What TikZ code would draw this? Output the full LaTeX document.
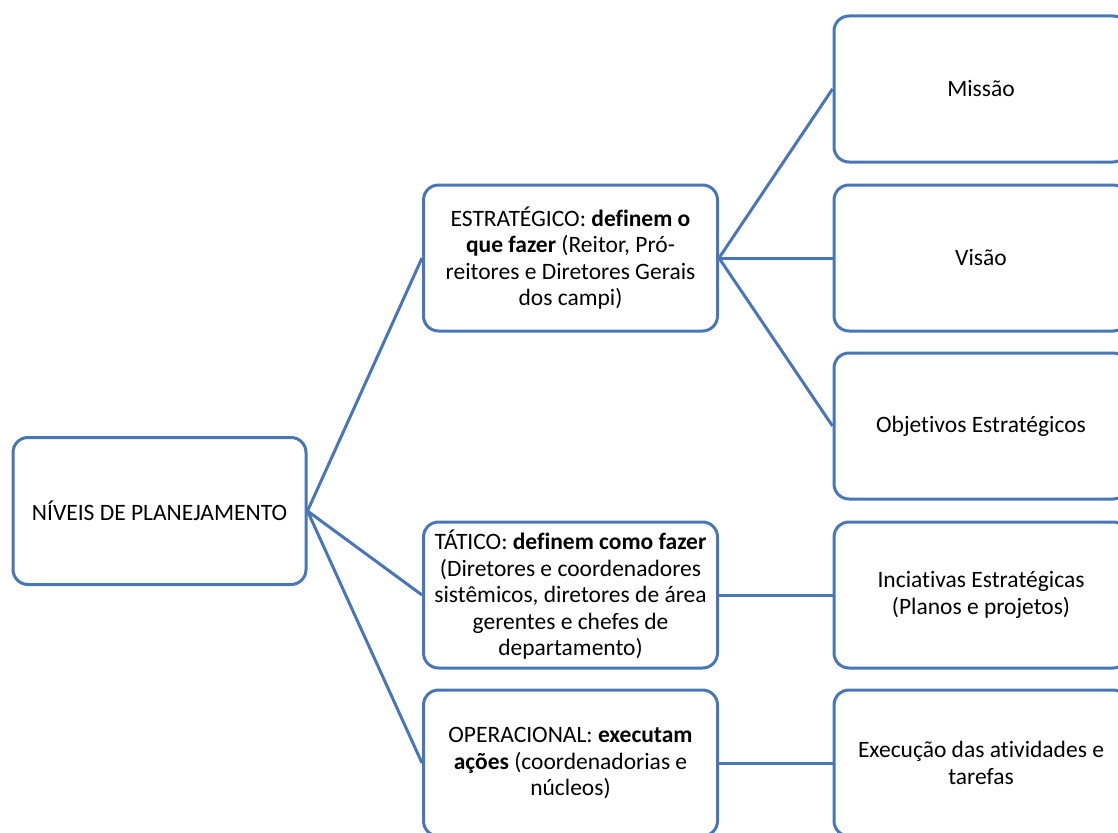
\documentclass[tikz,border=0pt]{standalone}
\usepackage{fontspec}
\setmainfont{Carlito}[Ligatures=NoCommon]
\definecolor{boxblue}{RGB}{72,118,182}
\begin{document}
\begin{tikzpicture}[x=1pt,y=-1pt,
  box/.style={draw=boxblue, line width=3pt, rounded corners=15pt, fill=white,
    minimum width=294pt, minimum height=146pt, align=center, inner sep=2pt,
    font=\fontsize{23.5}{26.5}\selectfont},
  conn/.style={draw=boxblue, line width=3pt}]
\clip (0,0) rectangle (1118,832);
\node[box, minimum width=293pt, minimum height=147pt] (root) at (159.5,511) {NÍVEIS DE PLANEJAMENTO};
\node[box] (est) at (570.5,258) {ESTRATÉGICO: \textbf{definem o}\\\textbf{que fazer} (Reitor, Pró-\\reitores e Diretores Gerais\\dos campi)};
\node[box] (tat) at (570.5,595) {TÁTICO: \textbf{definem como fazer}\\(Diretores e coordenadores\\sistêmicos, diretores de área\\gerentes e chefes de\\departamento)};
\node[box] (ope) at (570.5,763) {OPERACIONAL: \textbf{executam}\\\textbf{ações} (coordenadorias e\\núcleos)};
\node[box] (mis) at (981,89) {Missão};
\node[box] (vis) at (981,258) {Visão};
\node[box] (obj) at (981,426) {Objetivos Estratégicos};
\node[box] (ini) at (981,595) {Inciativas Estratégicas\\(Planos e projetos)};
\node[box] (exe) at (981,763) {Execução das atividades e\\tarefas};
\draw[conn] (root.east) -- (est.west);
\draw[conn] (root.east) -- (tat.west);
\draw[conn] (root.east) -- (ope.west);
\draw[conn] (est.east) -- (mis.west);
\draw[conn] (est.east) -- (vis.west);
\draw[conn] (est.east) -- (obj.west);
\draw[conn] (tat.east) -- (ini.west);
\draw[conn] (ope.east) -- (exe.west);
\end{tikzpicture}
\end{document}
